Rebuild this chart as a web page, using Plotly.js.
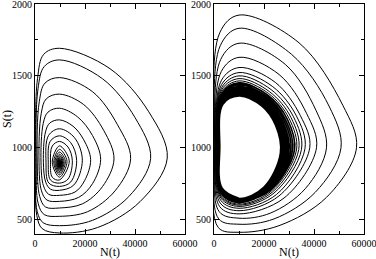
<!DOCTYPE html>
<html>
<head>
<meta charset="utf-8">
<script src="https://cdn.plot.ly/plotly-3.0.1.min.js"></script>
<style>html,body{margin:0;padding:0;background:#fff}#chart{width:376px;height:259px}</style>
</head>
<body>
<div id="chart"></div>
<script>
// Left panel: damped oscillation spiralling to a fixed point. [N(t), S(t)].
const leftOrbit = [
  [270,800],[700,530],[2900,437],
  [9800,407],[25000,445],[42000,625],[52900,928],[45500,1250],[30000,1550],[9800,1692],[3500,1650],[1000,1480],[270,900],[900,555],[3300,478],
  [9800,458],[23000,495],[37500,660],[46260,926],[40000,1210],[27000,1480],[9800,1611],[3700,1565],[1200,1410],[480,900],[1300,610],[3700,535],
  [9800,523],[21000,555],[32000,700],[38260,924],[33000,1160],[23000,1390],[9800,1488],[4000,1450],[1700,1320],[900,900],[1900,660],[4200,588],
  [9800,581],[19000,610],[27000,730],[31600,922],[27500,1120],[19500,1300],[9800,1373],[4500,1340],[2500,1240],[1600,900],[2600,700],[4800,636],
  [9800,627],[17500,655],[23000,750],[26260,920],[23000,1085],[17000,1215],[9800,1275],[5200,1248],[3300,1170],[2400,900],[3400,735],[5500,676],
  [9800,669],[16000,692],[19800,770],[22260,917],[19500,1055],[15200,1150],[9800,1194],[5900,1172],[4200,1110],[3350,900],[4300,760],[6200,712],
  [9800,704],[15500,740],[18930,914],[15800,1070],[9800,1132],[5400,1085],[4400,900],[5500,755],
  [9800,731],[14300,762],[16660,912],[14300,1035],[9800,1083],[6100,1045],[5300,900],[6200,775],
  [9800,754],[13200,782],[14930,910],[13200,1005],[9800,1044],[6900,1012],[6200,900],[6900,795],
  [9800,776],[13700,908],[9800,1013],[6900,900],
  [9800,795],[12800,906],[9800,989],[7500,900],
  [9800,811],[12150,905],[9800,970],[7950,900],
  [9800,824],[11650,903],[9800,955],[8350,898],
  [9800,835],[11280,902],[9800,944],[8650,897],
  [9800,844],[11000,901],[9800,935],[8900,896],
  [9800,851],[10780,900],[9800,928],[9100,895],
  [9800,857],[10600,899],[9800,922],[9250,895],
  [9800,862],[10470,898],[9800,917],[9400,894],
  [9800,866],[10370,897],[9800,913],[9500,894],
  [9800,869],[10290,896],[9800,910],[9580,894],
  [9800,872],[10220,895],[9800,907],[9640,893],
  [9800,874],[10170,895],[9800,905],[9690,893],
  [9800,876],[10130,894],[9800,903],[9730,893],
  [9800,878],[10100,894],[9800,901],[9760,893],
  [9800,880]
];

// Right panel, first part: the widely spaced outer turns. [N(t), S(t)].
const rightOuter = [
  [250,1000],[1700,445],
  [10000,412],[26000,458],[45000,655],[57000,1000],[51500,1296],[34000,1730],[10000,1923],[2300,1800],[280,1000],[1900,505],
  [10000,468],[24000,505],[40500,690],[50800,1000],[46000,1290],[31000,1650],[10000,1831],[2500,1710],[380,1000],[2100,555],
  [10000,510],[22500,545],[36500,715],[45000,1000],[40800,1260],[28500,1580],[10000,1727],[2700,1615],[500,1000],[2300,590],
  [10000,540],[28000,650],[41000,1000],[37000,1240],[26000,1510],[10000,1629],[2900,1530],[650,1000],[2500,615],
  [10000,562],[26000,665],[38300,1000],[34500,1225],[24500,1455],[10000,1558],[3000,1470],[800,1000],[2650,635],
  [10000,579],[25000,675],[36400,995],[33000,1220],[23500,1425],[10000,1523],[3050,1440],[950,1000],[2750,650],
  [10000,592],[24000,685],[35000,990],[31800,1215],[22800,1405],[10000,1500],[3100,1420],[1070,1000],[2850,660],
  [10000,601],[23400,692],[33900,988],[30800,1210],[22200,1390],[10000,1481],[3150,1405],[1180,1000],[2900,668],
  [10000,608],[22900,698],[33000,985],[30000,1205],[21800,1378],[10000,1465],[3200,1392],[1280,1000],[2950,675],
  [10000,614]
];

// Right panel, second part: the tightly packed turns that pile up on the limit cycle.
const rightInner = [
  [10000,614],[22500,703],[32200,983],[29300,1200],[21400,1367],[10000,1451],[3250,1380],[1370,1000],[3000,681],
  [10000,619],[22100,707],[31400,980],[28600,1195],[21000,1357],[10000,1439],[3300,1370],[1450,1000],[3050,686],
  [10000,623],[21800,711],[30700,978],[28000,1190],[20700,1348],[10000,1428],[3330,1360],[1530,1000],[3080,691],
  [10000,627],[21500,714],[30000,976],[27400,1185],[20400,1340],[10000,1417],[3360,1351],[1610,1000],[3110,696],
  [10000,630],[21200,717],[29400,974],[26900,1180],[20200,1332],[10000,1407],[3390,1343],[1690,1000],[3130,700],
  [10000,633],[21000,719],[28900,972],[26500,1176],[20000,1325],[10000,1398],[3410,1335],[1770,1000],[3150,704],
  [10000,636],[20800,721],[28450,970],[26100,1172],[19800,1318],[10000,1390],[3430,1328],[1850,1000],[3170,707],
  [10000,638],[20650,722],[28050,968],[25800,1168],[19650,1312],[10000,1383],[3450,1322],[1930,1000],[3180,710],
  [10000,640],[20500,723],[27700,967],[25500,1165],[19500,1307],[10000,1377],[3470,1317],[2000,1000],[3190,713],
  [10000,642],[20400,724],[27400,966],[25250,1162],[19400,1303],[10000,1372],[3480,1313],[2070,1000],[3200,715],
  [10000,644],[20300,725],[27150,965],[25050,1160],[19300,1300],[10000,1368],[3490,1309],[2140,1000],[3200,717],
  [10000,645],[20200,725],[26950,964],[24900,1158],[19200,1297],[10000,1365],[3500,1306],[2200,1000],[3200,718],
  [10000,646],[20150,726],[26800,963],[24800,1157],[19150,1295],[10000,1363],[3500,1304],[2250,1000],[3200,719],
  [10000,646],[20100,726],[26700,963],[24750,1156],[19100,1294],[10000,1362],[3500,1303],[2280,1000],[3200,719],
  [10000,647],[20050,726],[26620,962],[24700,1155],[19080,1293],[10000,1361],[3500,1302],[2300,1000],[3200,720],
  [10000,647],[20000,727],[26550,962],[24650,1155],[19050,1292],[10000,1360],[3500,1301],[2320,1000],[3200,720],
  [10000,648]
];

const xRange = [0, 60000];
const yRange = [400, 2000];
const xTitle = 'N(t)';
const yTitle = 'S(t)';

const FONT = "'Liberation Serif', 'Times New Roman', serif";
const thin = {color:'#000', width:1, shape:'spline', smoothing:1};
const dense = {color:'#000', width:1.6, shape:'spline', smoothing:1};

function orbitTrace(pts, line, xa, ya){
  return {x: pts.map(p=>p[0]), y: pts.map(p=>p[1]), mode:'lines', line, xaxis:xa, yaxis:ya, hoverinfo:'skip'};
}
const traces = [
  orbitTrace(leftOrbit, thin, 'x', 'y'),
  orbitTrace(rightOuter, thin, 'x2', 'y2'),
  orbitTrace(rightInner, dense, 'x2', 'y2')
];

function xAxis(domain, anchor){
  return {domain, anchor, range:xRange, showline:true, linecolor:'#000', linewidth:1, mirror:'ticks',
    ticks:'inside', ticklen:5, tickcolor:'#000', dtick:20000, tick0:0, showgrid:false, zeroline:false,
    tickformat:'d', exponentformat:'none', ticklabeloverflow:'allow',
    minor:{ticks:'inside', ticklen:3, tickcolor:'#000', dtick:10000, showgrid:false},
    tickfont:{family:FONT, size:10, color:'#000'},
    title:{text:xTitle, font:{family:FONT, size:12, color:'#000'}, standoff:2}};
}
function yAxis(anchor, withTitle){
  const a = {domain:[0,1], anchor, range:yRange, showline:true, linecolor:'#000', linewidth:1, mirror:'ticks',
    ticks:'inside', ticklen:5, tickcolor:'#000', dtick:500, tick0:0, showgrid:false, zeroline:false,
    tickformat:'d', ticklabeloverflow:'allow',
    minor:{ticks:'inside', ticklen:3, tickcolor:'#000', dtick:250, showgrid:false},
    tickfont:{family:FONT, size:10, color:'#000'}};
  if (withTitle) a.title = {text:yTitle, font:{family:FONT, size:12, color:'#000'}, standoff:4};
  return a;
}

const layout = {
  width:376, height:259, showlegend:false,
  paper_bgcolor:'#fff', plot_bgcolor:'#fff',
  margin:{l:0, r:0, t:4, b:25},
  xaxis: xAxis([35/376, 185/376], 'y'),
  yaxis: yAxis('x', true),
  xaxis2: xAxis([214/376, 364/376], 'y2'),
  yaxis2: yAxis('x2', false)
};

Plotly.newPlot('chart', traces, layout, {staticPlot:true, displayModeBar:false});
</script>
</body>
</html>
